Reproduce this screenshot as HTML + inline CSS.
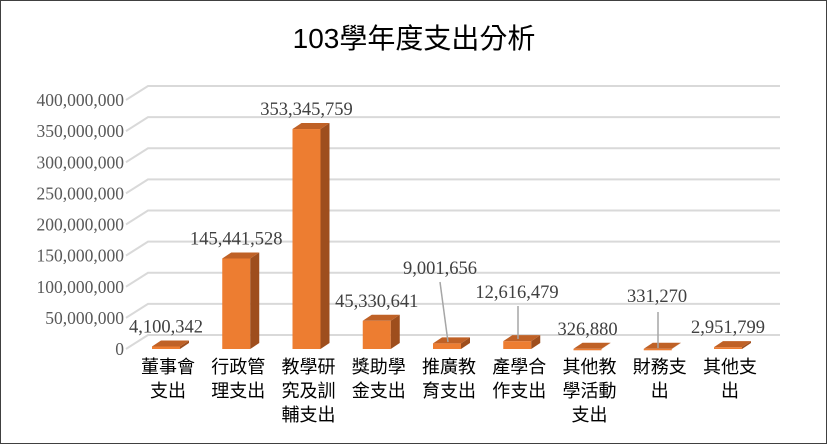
<!DOCTYPE html>
<html><head><meta charset="utf-8"><style>
body{margin:0;background:#fff}
svg{display:block}
text{font-family:"Liberation Serif","Noto Serif CJK SC","Noto Sans CJK TC",serif}
</style></head><body>
<svg id="chart" width="829" height="445" viewBox="0 0 829 445">
<rect x="0.5" y="0.5" width="826" height="443" fill="#fff" stroke="#404040" stroke-width="1"/>
<text x="414" y="48" text-anchor="middle" font-size="28" fill="#000" style="font-family:'Liberation Sans','Noto Sans CJK TC',sans-serif">103學年度支出分析</text>
<g id="grid"></g><g id="bars"></g><g id="labels"></g>
</svg>
<script>
const categories=[["董事會","支出"],["行政管","理支出"],["教學研","究及訓","輔支出"],["獎助學","金支出"],["推廣教","育支出"],["產學合","作支出"],["其他教","學活動","支出"],["財務支","出"],["其他支","出"]];
const values=[4100342,145441528,353345759,45330641,9001656,12616479,326880,331270,2951799];
const valueLabels=["4,100,342","145,441,528","353,345,759","45,330,641","9,001,656","12,616,479","326,880","331,270","2,951,799"];
const yTicks=[0,50000000,100000000,150000000,200000000,250000000,300000000,350000000,400000000];
const yTickLabels=["0","50,000,000","100,000,000","150,000,000","200,000,000","250,000,000","300,000,000","350,000,000","400,000,000"];
const NS="http://www.w3.org/2000/svg";
function mk(t,a,p){const e=document.createElementNS(NS,t);for(const k in a)e.setAttribute(k,a[k]);p.appendChild(e);return e;}
const y0=349,yMaxPx=100,vMax=400000000;
function yF(v){return y0-(v/vMax)*(y0-yMaxPx);}
function xC(i){return 166+i*70.25;}
const grid=document.getElementById('grid'),bars=document.getElementById('bars'),labels=document.getElementById('labels');
yTicks.forEach((t,i)=>{const y=yF(t);
 const l=mk('polyline',{points:`126,${y} 148,${y-14} 780,${y-14}`,fill:'none',stroke:'#d9d9d9','stroke-width':2},grid);
 
 const tx=mk('text',{x:124,y:y+6,'text-anchor':'end','font-size':17.5,fill:'#595959'},grid);tx.textContent=yTickLabels[i];
 
});
const dx=9,dy=-6,w=28;
const custom={4:[440,268,[440,282,448,342]],5:[517,292,[518,306,518,339]],7:[657,296,[658,312,658,348]]};
values.forEach((v,i)=>{const xl=xC(i)-w/2,yt=yF(v);
 const g=mk('g',{},bars);
 mk('rect',{x:xl,y:yt,width:w,height:Math.max(y0-yt,1.5),fill:'#ed7d31'},g);
 mk('polygon',{points:`${xl+w},${yt} ${xl+w+dx},${yt+dy} ${xl+w+dx},${y0+dy} ${xl+w},${y0}`,fill:'#9e4e1d'},g);
 mk('polygon',{points:`${xl},${yt} ${xl+dx},${yt+dy} ${xl+w+dx},${yt+dy} ${xl+w},${yt}`,fill:'#bf6126'},g);
 let lx=xC(i),ly=yt-20;
 if(custom[i]){lx=custom[i][0];ly=custom[i][1];const p=custom[i][2];
  const ln=mk('line',{x1:p[0],y1:p[1],x2:p[2],y2:p[3],stroke:'#a6a6a6','stroke-width':1.5},labels);
  }
 const t=mk('text',{x:lx,y:ly+6,'text-anchor':'middle','font-size':18.5,fill:'#404040'},labels);t.textContent=valueLabels[i];
 
 categories[i].forEach((s,j)=>{const c=mk('text',{x:xC(i)+2,y:373+j*24,'text-anchor':'middle','font-size':18,fill:'#000',style:"font-family:'Liberation Sans','Noto Sans CJK TC',sans-serif"},labels);c.textContent=s;
  });
});
</script>
</body></html>
